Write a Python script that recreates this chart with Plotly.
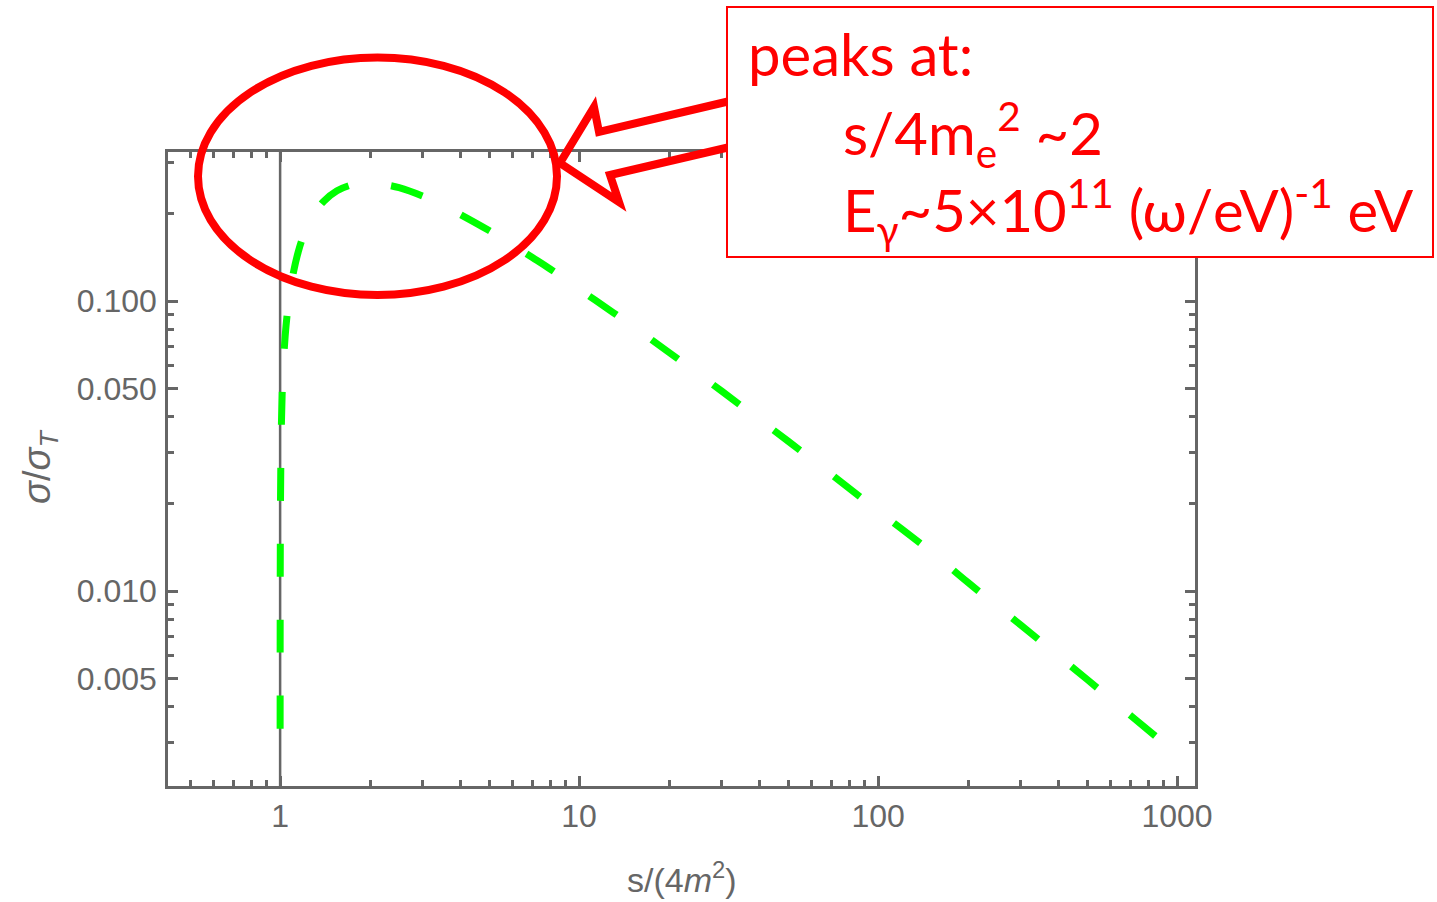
import plotly.graph_objects as go

# ---- data ----
s_vals = [1.00008, 1.0003, 1.001, 1.003, 1.01, 1.02, 1.04, 1.07, 1.1, 1.15,
          1.2, 1.3, 1.4, 1.55, 1.7, 1.85, 2.0, 2.2, 2.5, 3.0, 3.5, 4.0, 5.0,
          6.0, 7.0, 8.0, 10, 13, 16, 20, 30, 40, 50, 70, 100, 150, 200, 300,
          500, 700, 900, 1000]
sigma_vals = [0.00335, 0.0065, 0.0119, 0.0206, 0.0377, 0.0535, 0.0761, 0.101,
              0.121, 0.148, 0.169, 0.200, 0.221, 0.240, 0.250, 0.255, 0.256,
              0.253, 0.246, 0.230, 0.214, 0.199, 0.175, 0.156, 0.141, 0.129,
              0.110, 0.0913, 0.0785, 0.0665, 0.0489, 0.0391, 0.0329, 0.0252,
              0.0189, 0.0137, 0.0107, 0.00764, 0.00496, 0.00372, 0.00300,
              0.00274]

x_major = [1, 10, 100, 1000]
x_major_text = ["1", "10", "100", "1000"]
x_minor = [0.5, 0.6, 0.7, 0.8, 0.9, 2, 3, 4, 5, 6, 7, 8, 9,
           20, 30, 40, 50, 60, 70, 80, 90, 200, 300, 400, 500, 600, 700, 800, 900]
y_major = [0.1, 0.05, 0.01, 0.005]
y_major_text = ["0.100", "0.050", "0.010", "0.005"]
y_minor = [0.3, 0.2, 0.09, 0.08, 0.07, 0.06, 0.04, 0.03, 0.02,
           0.009, 0.008, 0.007, 0.006, 0.004, 0.003]

x_range_log = [-0.375, 3.060]
y_range_log = [-2.672, -0.486]

note_lines = ["peaks at:",
              "s/4m<sub>e</sub><sup>2</sup> ~2",
              "E<sub>γ</sub>~5×10<sup>11</sup> (ω/eV)<sup>-1</sup> eV"]

# ---- layout helpers (pixel -> paper) ----
W, H = 1437, 902
ML, MR, MT, MB = 168, 242, 152, 116
PW, PH = W - ML - MR, H - MT - MB


def px(x):
    return (x - ML) / PW


def py(y):
    return (H - MB - y) / PH


AX = "#666666"
RED = "#ff0000"

fig = go.Figure()
fig.add_trace(go.Scatter(
    x=s_vals, y=sigma_vals, mode="lines",
    line=dict(color="#00ff00", width=7, dash="33px,43px", shape="spline"),
    hoverinfo="skip", showlegend=False))

axis_common = dict(
    type="log", showgrid=False, zeroline=False,
    showline=True, linecolor=AX, linewidth=2.5, mirror="ticks",
    ticks="inside", ticklen=10, tickwidth=2.5, tickcolor=AX,
    tickfont=dict(family="Liberation Sans, Arial, sans-serif", size=32, color=AX),
)

fig.update_xaxes(**axis_common, range=x_range_log, tickmode="array",
                 tickvals=x_major, ticktext=x_major_text, ticklabelstandoff=0,
                 minor=dict(tickmode="array", tickvals=x_minor, ticks="inside",
                            ticklen=6, tickwidth=2.5, tickcolor=AX))
fig.update_yaxes(**axis_common, range=y_range_log, tickmode="array",
                 tickvals=y_major, ticktext=y_major_text, ticklabelstandoff=2,
                 minor=dict(tickmode="array", tickvals=y_minor, ticks="inside",
                            ticklen=6, tickwidth=2.5, tickcolor=AX))

shapes = []
# vertical axis line at s = 1
shapes.append(dict(type="line", xref="x", yref="paper", x0=1, x1=1, y0=0, y1=1,
                   line=dict(color=AX, width=2.5), layer="below"))
# ellipse around the peak
shapes.append(dict(type="circle", xref="paper", yref="paper",
                   x0=px(198), x1=px(557), y0=py(295), y1=py(57.5),
                   line=dict(color=RED, width=8), layer="above"))
# arrow outline
arrow_pts = [(730, 101), (599, 132), (594, 107), (560, 163),
             (619, 202), (610, 175), (730, 147)]
path = "M " + " L ".join(f"{px(a):.5f},{py(b):.5f}" for a, b in arrow_pts)
shapes.append(dict(type="path", xref="paper", yref="paper", path=path,
                   line=dict(color=RED, width=8), layer="above"))
# text box
shapes.append(dict(type="rect", xref="paper", yref="paper",
                   x0=px(727), x1=px(1433), y0=py(257), y1=py(7),
                   line=dict(color=RED, width=2), fillcolor="white", layer="above"))

xlabel_font = dict(family="Liberation Sans, Arial, sans-serif", size=34, color=AX)
ylabel_font = dict(family="Liberation Sans, Arial, sans-serif", size=38, color=AX)
note_font = dict(family="Lato, sans-serif", size=58, color=RED)
annotations = [
    dict(x=px(682), y=py(877), xref="paper", yref="paper",
         text="s/(4<i>m</i><sup>2</sup>)", showarrow=False,
         xanchor="center", yanchor="middle", font=xlabel_font),
    dict(x=px(40), y=py(467), xref="paper", yref="paper",
         text="<i>σ</i>/<i>σ</i><sub><i>T</i></sub>", showarrow=False,
         textangle=-90, xanchor="center", yanchor="middle", font=ylabel_font),
    dict(x=px(746), y=py(53), xref="paper", yref="paper", text=note_lines[0],
         showarrow=False, xanchor="left", yanchor="middle", font=note_font),
    dict(x=px(841), y=py(134), xref="paper", yref="paper", text=note_lines[1],
         showarrow=False, xanchor="left", yanchor="middle", font=note_font),
    dict(x=px(841), y=py(211), xref="paper", yref="paper", text=note_lines[2],
         showarrow=False, xanchor="left", yanchor="middle", font=note_font),
]

fig.update_layout(
    width=W, height=H, margin=dict(l=ML, r=MR, t=MT, b=MB),
    paper_bgcolor="white", plot_bgcolor="white", showlegend=False,
    shapes=shapes, annotations=annotations,
)

fig.write_html("out.html")
